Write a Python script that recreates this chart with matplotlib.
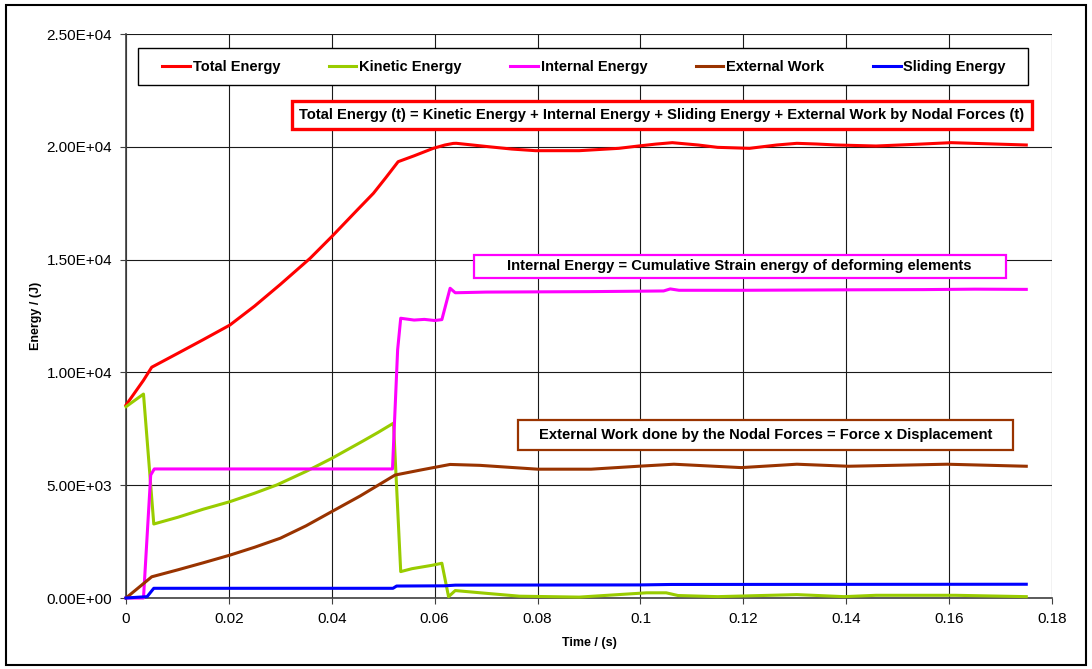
import matplotlib
matplotlib.use("Agg")
import matplotlib.pyplot as plt
from matplotlib.patches import Rectangle
from matplotlib.ticker import FuncFormatter

# ---------------- data ----------------
t_total = [0, 0.0034, 0.005, 0.0101, 0.0150, 0.0202, 0.0250, 0.0300, 0.0358, 0.0400,
           0.0450, 0.0481, 0.0505, 0.0529, 0.0560, 0.0597, 0.0620, 0.0636, 0.0642,
           0.0704, 0.0750, 0.0796, 0.0881, 0.0958, 0.0996, 0.1030, 0.1062, 0.1112,
           0.1150, 0.1212, 0.1265, 0.1304, 0.1342, 0.1381, 0.1458, 0.1535, 0.1604,
           0.1688, 0.1750]
e_total = [8550, 9650, 10230, 10850, 11450, 12100, 12940, 13900, 15060, 16020,
           17210, 17940, 18630, 19340, 19600, 19930, 20080, 20150, 20155,
           20006, 19900, 19828, 19828, 19932, 20035, 20120, 20183, 20080,
           19976, 19932, 20080, 20154, 20124, 20080, 20035, 20110, 20183,
           20124, 20080]

t_kinetic = [0, 0.0034, 0.0054, 0.0101, 0.0150, 0.0202, 0.0250, 0.0293, 0.0350,
             0.0400, 0.0460, 0.0490, 0.0520, 0.0534, 0.0556, 0.0595, 0.0614, 0.0627,
             0.0640, 0.0704, 0.0765, 0.0881, 0.1012, 0.1050, 0.1073, 0.1150, 0.1304,
             0.1396, 0.1458, 0.1612, 0.1750]
e_kinetic = [8480, 9040, 3280, 3580, 3935, 4270, 4645, 5010, 5610,
             6190, 6950, 7340, 7750, 1170, 1300, 1450, 1540, 60,
             330, 200, 80, 40, 230, 230, 110, 60, 150,
             60, 120, 120, 60]

t_internal = [0, 0.0034, 0.0048, 0.0055, 0.0300, 0.0518, 0.0528, 0.0534, 0.0560,
              0.0580, 0.0600, 0.0614, 0.0630, 0.0640, 0.0700, 0.0800, 0.0900, 0.1000,
              0.1045, 0.1058, 0.1075, 0.1200, 0.1400, 0.1550, 0.1650, 0.1750]
e_internal = [0, 0, 5450, 5720, 5720, 5720, 11000, 12400, 12320,
              12350, 12300, 12340, 13730, 13530, 13560, 13570, 13580, 13600,
              13610, 13700, 13640, 13640, 13660, 13670, 13690, 13680]

t_external = [0, 0.005, 0.0101, 0.0150, 0.0202, 0.0250, 0.0300, 0.0350, 0.0400,
              0.0455, 0.0523, 0.0572, 0.0630, 0.0688, 0.0800, 0.0904, 0.0996,
              0.1065, 0.1196, 0.1304, 0.1404, 0.1596, 0.1750]
e_external = [0, 940, 1250, 1560, 1900, 2250, 2650, 3200, 3830,
              4520, 5450, 5670, 5920, 5880, 5710, 5710, 5840,
              5930, 5780, 5930, 5840, 5930, 5840]

t_sliding = [0, 0.0041, 0.0054, 0.0519, 0.0526, 0.0620, 0.0640, 0.1000, 0.1060, 0.1750]
e_sliding = [0, 60, 430, 430, 530, 540, 570, 580, 600, 610]

series_names = ["Total Energy", "Kinetic Energy", "Internal Energy",
                "External Work", "Sliding Energy"]
series_colors = ["#FF0000", "#99CC00", "#FF00FF", "#993300", "#0000FF"]

x_ticks = [0, 0.02, 0.04, 0.06, 0.08, 0.1, 0.12, 0.14, 0.16, 0.18]
y_ticks = [0, 5000, 10000, 15000, 20000, 25000]

note_total = ("Total Energy (t) = Kinetic Energy + Internal Energy + Sliding Energy "
              "+ External Work by Nodal Forces (t)")
note_internal = "Internal Energy = Cumulative Strain energy of deforming elements"
note_external = "External Work done by the Nodal Forces = Force x Displacement"

# ---------------- figure ----------------
W, H = 1092, 669
fig = plt.figure(figsize=(W / 100, H / 100), dpi=100)
FONT = "Liberation Sans"


def fx(x):
    return x / W


def fy(y):
    return 1 - y / H


ax = fig.add_axes([fx(126), fy(598), fx(1052) - fx(126), fy(34) - fy(598)])

data = [(t_total, e_total), (t_kinetic, e_kinetic), (t_internal, e_internal),
        (t_external, e_external), (t_sliding, e_sliding)]
handles = []
for (t, e), name, col in zip(data, series_names, series_colors):
    h, = ax.plot(t, e, color=col, lw=2.2, label=name, solid_joinstyle="round",
                 clip_on=False, zorder=3)
    handles.append(h)

ax.set_xlim(0, 0.18)
ax.set_ylim(0, 25000)
ax.set_xticks(x_ticks)
ax.set_yticks(y_ticks)
ax.xaxis.set_major_formatter(FuncFormatter(lambda v, p: f"{v:g}"))
ax.yaxis.set_major_formatter(FuncFormatter(lambda v, p: f"{v:.2E}"))
ax.grid(True, color="#1a1a1a", lw=0.8, zorder=1)
ax.set_axisbelow(True)
for s in ["top", "right"]:
    ax.spines[s].set_visible(False)
for s in ["left", "bottom"]:
    ax.spines[s].set_color("#404040")
    ax.spines[s].set_linewidth(1.2)
ax.tick_params(axis="both", direction="out", length=4, width=0.8, color="#404040",
               labelsize=11, pad=6)
for lab in ax.get_xticklabels() + ax.get_yticklabels():
    lab.set_fontfamily(FONT)

ax.set_xlabel("Time / (s)", fontsize=9, fontweight="bold", family=FONT)
ax.xaxis.set_label_coords(0.5, (598 - 643) / 564)
ax.xaxis.label.set_va("center")
ax.set_ylabel("Energy / (J)", fontsize=9, fontweight="bold", family=FONT)
ax.yaxis.set_label_coords((36 - 126) / 926, 0.5)
ax.yaxis.label.set_va("center")

# ---------------- legend ----------------
fig.patches.append(Rectangle((fx(138), fy(85)), fx(1028) - fx(138), fy(48) - fy(85),
                             transform=fig.transFigure, fill=True, facecolor="white",
                             edgecolor="black", lw=1.0, zorder=4))
leg = fig.legend(handles=handles, ncol=5, mode="expand", loc="center",
                 bbox_to_anchor=(fx(162), fy(77), fx(1006) - fx(162), fy(57) - fy(77)),
                 bbox_transform=fig.transFigure, frameon=False, borderaxespad=0,
                 borderpad=0, handlelength=1.9, handletextpad=0.2, columnspacing=2.0,
                 prop={"family": FONT, "weight": "bold", "size": 10.5})
leg.set_zorder(5)

# ---------------- notes ----------------
def note(x0, y0, x1, y1, text, color, lw):
    fig.patches.append(Rectangle((fx(x0), fy(y1)), fx(x1) - fx(x0), fy(y0) - fy(y1),
                                 transform=fig.transFigure, facecolor="white",
                                 edgecolor=color, lw=lw, zorder=4))
    fig.text(fx((x0 + x1) / 2), fy((y0 + y1) / 2), text, ha="center", va="center",
             family=FONT, fontweight="bold", fontsize=10.6, zorder=5)


note(291.7, 101, 1031.7, 129.3, note_total, "#FF0000", 2.4)
note(473.5, 255, 1005.9, 277.7, note_internal, "#FF00FF", 1.6)
note(517.7, 420, 1012.8, 449.5, note_external, "#993300", 1.6)

# outer frame
fig.patches.append(Rectangle((fx(6), fy(665)), fx(1086) - fx(6), fy(5) - fy(665),
                             transform=fig.transFigure, fill=False,
                             edgecolor="black", lw=1.5, zorder=6))

fig.savefig("out.png", dpi=100)
